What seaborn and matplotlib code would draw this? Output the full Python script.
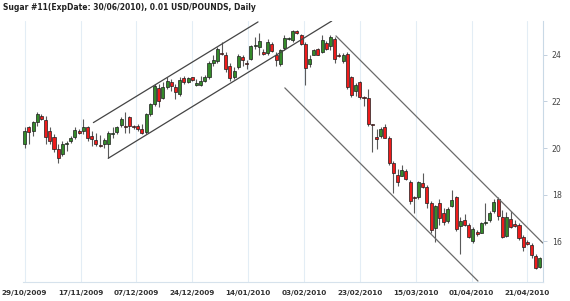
import numpy as np
import pandas as pd
import matplotlib
matplotlib.use("Agg")
import matplotlib.pyplot as plt
import seaborn as sns

# ---------------- data ----------------
title = "Sugar #11(ExpDate: 30/06/2010), 0.01 USD/POUNDS, Daily"

opens = [20.19, 20.88, 20.74, 21.10, 21.38, 21.20, 20.74, 20.48, 19.94, 19.76,
         20.16, 20.30, 20.49, 20.71, 20.71, 20.88, 20.51, 20.33, 20.13, 20.19,
         20.19, 20.62, 20.69, 20.98, 20.95, 21.31, 20.92, 20.95, 20.80, 20.70,
         21.45, 21.88, 22.57, 22.14, 22.60, 22.82, 22.63, 22.32, 22.99, 22.82,
         23.04, 22.70, 22.72, 22.89, 23.06, 23.64, 23.73, 24.08, 24.00, 23.51,
         23.04, 23.47, 23.90, 23.64, 23.83, 24.36, 24.32, 24.12, 24.07, 24.48,
         24.00, 23.61, 24.30, 24.69, 24.62, 25.02, 24.84, 24.48, 23.61, 24.00,
         24.26, 24.12, 24.50, 24.36, 24.69, 23.97, 23.73, 24.04, 23.06, 22.46,
         22.82, 22.20, 22.14, 21.05, 20.47, 20.52, 20.92, 20.44, 19.36, 18.86,
         18.82, 19.00, 18.53, 17.90, 17.90, 18.50, 18.33, 17.64, 16.55, 17.64,
         17.20, 16.87, 17.52, 17.90, 16.66, 16.91, 16.70, 16.02, 16.41, 16.37,
         16.77, 16.89, 17.28, 17.81, 17.05, 16.22, 16.94, 16.74, 16.70, 16.20,
         15.98, 15.84, 15.36, 14.88]
highs = [20.88, 20.95, 21.17, 21.53, 21.48, 21.38, 20.88, 20.62, 20.16, 20.30,
         20.30, 20.52, 20.88, 20.81, 21.24, 20.95, 20.71, 20.66, 20.56, 20.45,
         20.71, 20.88, 20.95, 21.34, 21.53, 21.38, 21.00, 21.02, 21.02, 21.52,
         21.95, 22.75, 22.75, 22.82, 23.06, 22.96, 22.75, 23.04, 23.11, 23.04,
         23.06, 22.96, 23.11, 23.13, 23.75, 23.97, 24.33, 24.55, 24.12, 23.64,
         23.49, 24.02, 23.97, 23.78, 24.40, 24.76, 24.95, 24.26, 24.69, 24.55,
         24.12, 24.26, 24.83, 24.76, 25.08, 25.05, 24.91, 24.55, 23.97, 24.26,
         24.30, 24.83, 24.59, 24.83, 24.76, 24.07, 24.07, 24.12, 23.11, 22.78,
         22.89, 22.24, 22.53, 21.05, 20.80, 20.88, 21.02, 20.52, 19.44, 19.08,
         19.29, 19.10, 18.61, 17.95, 18.57, 18.93, 18.43, 17.71, 17.56, 17.81,
         17.42, 17.46, 18.18, 17.95, 17.06, 17.17, 16.77, 16.60, 16.48, 16.84,
         17.63, 17.28, 17.81, 17.90, 17.34, 17.27, 17.31, 16.91, 16.77, 16.27,
         16.05, 15.91, 15.45, 15.34]
lows = [19.99, 20.16, 20.52, 20.95, 21.20, 20.16, 20.16, 19.84, 19.37, 19.66,
        19.87, 20.23, 20.38, 20.62, 20.62, 20.30, 20.09, 20.09, 20.04, 20.02,
        19.58, 20.45, 20.59, 20.88, 20.66, 20.66, 20.81, 20.74, 20.59, 20.62,
        21.38, 21.81, 21.77, 22.10, 22.53, 22.46, 22.10, 22.24, 22.75, 22.77,
        22.86, 22.68, 22.68, 22.82, 22.96, 23.54, 23.64, 23.97, 23.25, 22.89,
        22.96, 23.40, 23.54, 23.40, 23.76, 24.26, 23.97, 23.97, 24.00, 24.12,
        23.50, 23.50, 24.19, 24.62, 24.55, 24.91, 24.40, 22.72, 23.47, 23.97,
        23.97, 24.07, 24.19, 24.19, 23.64, 23.90, 23.64, 22.53, 22.20, 22.24,
        22.10, 21.81, 20.94, 19.84, 19.97, 20.44, 20.44, 19.29, 18.07, 18.35,
        18.79, 18.61, 17.61, 17.20, 17.81, 18.28, 17.42, 16.34, 15.98, 16.70,
        16.70, 16.77, 17.46, 16.45, 15.47, 16.66, 16.12, 15.93, 16.22, 16.34,
        16.70, 16.84, 17.20, 16.92, 16.12, 16.17, 16.55, 16.62, 16.05, 15.59,
        15.84, 15.26, 14.79, 14.83]
closes = [20.71, 20.69, 21.10, 21.48, 21.24, 20.48, 20.30, 19.94, 19.56, 20.16,
          20.23, 20.45, 20.76, 20.65, 20.91, 20.45, 20.38, 20.19, 20.10, 20.33,
          20.66, 20.66, 20.88, 21.24, 20.90, 20.95, 20.90, 20.81, 20.66, 21.45,
          21.88, 22.68, 22.00, 22.63, 22.89, 22.68, 22.39, 22.92, 22.82, 23.00,
          22.92, 22.78, 22.89, 23.06, 23.64, 23.78, 24.26, 24.05, 23.40, 23.01,
          23.32, 23.94, 23.76, 23.62, 24.36, 24.38, 24.60, 24.04, 24.55, 24.16,
          23.76, 24.22, 24.73, 24.70, 25.02, 24.94, 24.48, 23.44, 23.83, 24.22,
          24.00, 24.62, 24.26, 24.76, 23.83, 23.96, 23.97, 22.60, 22.29, 22.72,
          22.17, 22.14, 21.02, 20.99, 20.37, 20.80, 20.44, 19.36, 18.93, 18.53,
          19.05, 18.67, 17.71, 17.87, 18.53, 18.33, 17.64, 16.48, 17.49, 16.99,
          16.84, 17.38, 17.78, 16.51, 16.87, 16.70, 16.20, 16.51, 16.31, 16.80,
          16.84, 17.23, 17.67, 17.09, 16.17, 17.05, 16.62, 16.65, 16.12, 15.77,
          15.88, 15.41, 14.83, 15.27]

date_labels = ["29/10/2009", "17/11/2009", "07/12/2009", "24/12/2009", "14/01/2010",
               "03/02/2010", "23/02/2010", "15/03/2010", "01/04/2010", "21/04/2010"]
date_label_pos = [0, 13.33, 26.67, 40, 53.33, 66.67, 80, 93.33, 106.67, 120]
y_ticks = [16, 18, 20, 22, 24]

# trend channel lines: (start index, start price, end index, end price)
up_channel_top = [16.4, 21.09, 55.7, 25.41]
up_channel_bottom = [19.95, 19.56, 73.3, 25.45]
down_channel_top = [74.3, 24.81, 123.7, 15.92]
down_channel_bottom = [62.1, 22.58, 108.2, 14.29]

# ---------------- figure ----------------
sns.set_style("white")
plt.rcParams["font.family"] = ["DejaVu Sans"]

fig = plt.figure(figsize=(5.70, 3.01), dpi=100)
ax = fig.add_axes([23 / 570, 19 / 301, 520.3 / 570, 261 / 301])

df = pd.DataFrame({"o": opens, "h": highs, "l": lows, "c": closes})
df["i"] = np.arange(len(df))
df["up"] = df["c"] >= df["o"]

red = "#ee1b1b"
green = "#348a2a"

# wicks
ax.vlines(df["i"], df["l"], df["h"], color="#5a5a5a", linewidth=0.8, zorder=2)
# bodies
body_bottom = np.minimum(df["o"], df["c"])
body_h = np.maximum(np.abs(df["c"] - df["o"]), 0.04)
ax.bar(df["i"], body_h, bottom=body_bottom, width=0.72,
       color=np.where(df["up"], green, red), edgecolor="#1e1e1e",
       linewidth=0.5, zorder=3)

# channel lines
lines = {
    "a": up_channel_top, "b": up_channel_bottom,
    "c": down_channel_top, "d": down_channel_bottom,
}
line_rows = []
for k, (x0, y0, x1, y1) in lines.items():
    line_rows.append({"k": k, "x": x0, "y": y0})
    line_rows.append({"k": k, "x": x1, "y": y1})
ldf = pd.DataFrame(line_rows)
for k, col in zip(["a", "b", "c", "d"], ["#444444", "#444444", "#6a6a6a", "#6a6a6a"]):
    sns.lineplot(data=ldf[ldf["k"] == k], x="x", y="y", ax=ax, color=col,
                 linewidth=0.9, estimator=None, sort=False, zorder=4)

ax.set_xlim(-0.4, 123.8)
ax.set_ylim(14.25, 25.45)
ax.set_xlabel("")
ax.set_ylabel("")

ax.set_xticks(date_label_pos)
ax.set_xticklabels(date_labels)
ax.xaxis.grid(True, color="#e3edf5", linewidth=0.8)
ax.yaxis.grid(False)
ax.set_axisbelow(True)

ax.yaxis.tick_right()
ax.set_yticks(y_ticks)
ax.set_yticklabels([str(v) for v in y_ticks])

ax.tick_params(axis="x", length=0, pad=6, labelsize=5.2, colors="#333333")
ax.tick_params(axis="y", which="both", length=3, width=0.6, color="#b8c8d8",
               pad=3, labelsize=5.6, labelcolor="#444444", right=True, left=False)
for lab in ax.get_xticklabels():
    lab.set_fontweight("bold")

for side in ["left", "top"]:
    ax.spines[side].set_visible(False)
ax.spines["right"].set_color("#c9d9e6")
ax.spines["bottom"].set_color("#d6e2ec")
ax.spines["right"].set_linewidth(0.8)
ax.spines["bottom"].set_linewidth(0.8)

fig.text(3 / 570, 1 - 8 / 301, title, fontsize=5.5, fontweight="bold",
         color="#222222", ha="left", va="center")

fig.savefig("out.png", dpi=100)
